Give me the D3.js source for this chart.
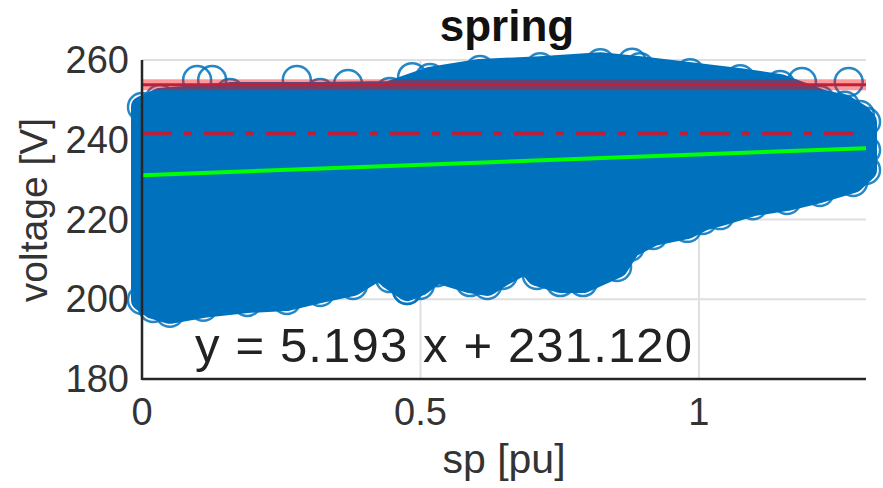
<!DOCTYPE html>
<html>
<head>
<meta charset="utf-8">
<script src="https://cdn.jsdelivr.net/npm/d3@7"></script>
<style>
  html, body { margin: 0; padding: 0; background: #fff; }
  svg { display: block; font-family: "Liberation Sans", Arial, Helvetica, sans-serif; }
</style>
</head>
<body>
<svg id="chart" width="883" height="488"></svg>
<script>
// outline of the dense scatter cloud (centres of the outermost markers)
const upperSp = [0, 0.032, 0.158, 0.32, 0.445, 0.517, 0.607, 0.715, 0.823, 0.894, 0.984, 1.074, 1.146, 1.217, 1.262, 1.289, 1.3, 1.3, 1.3];
const upperV  = [248.2, 250.2, 251.7, 251.7, 252.0, 255.5, 257.5, 258.2, 259.2, 258.2, 256.7, 255.2, 253.7, 250.0, 248.5, 246.2, 244.5, 237.4, 232.4];
const lowerSp = [1.277, 1.217, 1.158, 1.097, 1.038, 1.007, 0.979, 0.918, 0.876, 0.853, 0.792, 0.751, 0.709, 0.691, 0.648, 0.62, 0.589, 0.53, 0.499, 0.476, 0.445, 0.427, 0.379, 0.32, 0.26, 0.189, 0.11, 0.05, 0.02, 0];
const lowerV  = [229.4, 226.9, 224.9, 223.6, 221.1, 219.9, 217.9, 216.1, 213.1, 208.1, 204.3, 204.3, 206.1, 209.3, 206.1, 203.6, 204.3, 206.8, 203.6, 202.3, 205.3, 207.8, 203.6, 201.8, 199.8, 199.3, 198.1, 196.6, 197.8, 199.8];

// isolated markers sticking out of the cloud
const outlierSp = [0.099, 0.126, 0.278, 0.37, 0.485, 0.88, 1.185, 1.269, 0.476];
const outlierV  = [255.0, 255.0, 255.0, 254.0, 255.7, 259.3, 254.5, 254.5, 202.3];

// reference lines and regression
const upperLimit = 253.8;
const nominalLimit = 241.6;
const slope = 5.193;
const intercept = 231.120;

const yTicks = [180, 200, 220, 240, 260];
const xTicks = [0, 0.5, 1];
const xTickLabels = ["0", "0.5", "1"];

const svg = d3.select("#chart");
const mLeft = 142, mRight = 866, mTop = 60, mBottom = 379;
const x = d3.scaleLinear().domain([0, 1.3]).range([mLeft, mRight]);
const y = d3.scaleLinear().domain([180, 260]).range([mBottom, mTop]);

const blue = "#0072BD";
const r = 14;

// grid
const grid = svg.append("g").attr("stroke", "#dfdfdf").attr("stroke-width", 2);
grid.selectAll("line.h").data(yTicks.slice(1)).enter().append("line")
  .attr("x1", mLeft).attr("x2", mRight)
  .attr("y1", (d) => y(d)).attr("y2", (d) => y(d));
grid.selectAll("line.v").data(xTicks.slice(1)).enter().append("line")
  .attr("y1", mTop).attr("y2", mBottom)
  .attr("x1", (d) => x(d)).attr("x2", (d) => x(d));

// scatter cloud
const cloud = upperSp.map((s, i) => [x(s), y(upperV[i])])
  .concat(lowerSp.map((s, i) => [x(s), y(lowerV[i])]));
svg.append("path")
  .attr("d", d3.line()(cloud) + "Z")
  .attr("fill", blue)
  .attr("stroke", blue)
  .attr("stroke-width", 2 * (r - 3))
  .attr("stroke-linejoin", "round");

const markers = cloud.concat(outlierSp.map((s, i) => [x(s), y(outlierV[i])]));
svg.append("g").selectAll("circle").data(markers).enter().append("circle")
  .attr("cx", (d) => d[0]).attr("cy", (d) => d[1]).attr("r", r)
  .attr("fill", "none").attr("stroke", blue).attr("stroke-opacity", 0.85).attr("stroke-width", 2.5);

// upper limit (thick transparent band + solid core)
svg.append("line")
  .attr("x1", x(0)).attr("x2", x(1.3)).attr("y1", y(upperLimit)).attr("y2", y(upperLimit))
  .attr("stroke", "#ff0000").attr("stroke-opacity", 0.4).attr("stroke-width", 11);
svg.append("line")
  .attr("x1", x(0)).attr("x2", x(1.3)).attr("y1", y(upperLimit)).attr("y2", y(upperLimit))
  .attr("stroke", "#c0203a").attr("stroke-width", 3);

// nominal limit, dash-dot
svg.append("line")
  .attr("x1", x(0)).attr("x2", x(1.28)).attr("y1", y(nominalLimit)).attr("y2", y(nominalLimit))
  .attr("stroke", "#b8203b").attr("stroke-width", 4)
  .attr("stroke-dasharray", "30 12 8 12");

// regression line
svg.append("line")
  .attr("x1", x(0)).attr("x2", x(1.3))
  .attr("y1", y(intercept)).attr("y2", y(intercept + slope * 1.3))
  .attr("stroke", "#00ff00").attr("stroke-width", 4);

// axes
const axisColor = "#262626";
svg.append("line").attr("x1", mLeft).attr("x2", mLeft).attr("y1", mTop).attr("y2", mBottom + 1)
  .attr("stroke", axisColor).attr("stroke-width", 2.5);
svg.append("line").attr("x1", mLeft).attr("x2", mRight).attr("y1", mBottom).attr("y2", mBottom)
  .attr("stroke", axisColor).attr("stroke-width", 2.5);

svg.append("g").selectAll("text").data(yTicks).enter().append("text")
  .attr("x", mLeft - 13).attr("y", (d) => y(d) + 13)
  .attr("text-anchor", "end").attr("font-size", 38).attr("fill", "#333")
  .text((d) => d);

svg.append("g").selectAll("text").data(xTicks).enter().append("text")
  .attr("x", (d) => x(d)).attr("y", 425)
  .attr("text-anchor", "middle").attr("font-size", 38).attr("fill", "#333")
  .text((d, i) => xTickLabels[i]);

svg.append("text")
  .attr("transform", "translate(47,210) rotate(-90)")
  .attr("text-anchor", "middle").attr("font-size", 39).attr("fill", "#333")
  .text("voltage [V]");

svg.append("text")
  .attr("x", 504).attr("y", 473)
  .attr("text-anchor", "middle").attr("font-size", 41).attr("fill", "#333")
  .text("sp [pu]");

svg.append("text")
  .attr("x", 507).attr("y", 41)
  .attr("text-anchor", "middle").attr("font-size", 44).attr("font-weight", "bold").attr("fill", "#111")
  .text("spring");

svg.append("text")
  .attr("x", 195).attr("y", 362)
  .attr("font-size", 49).attr("fill", "#222")
  .attr("textLength", 497).attr("lengthAdjust", "spacing")
  .text("y = " + slope.toFixed(3) + " x + " + intercept.toFixed(3));
</script>
</body>
</html>
